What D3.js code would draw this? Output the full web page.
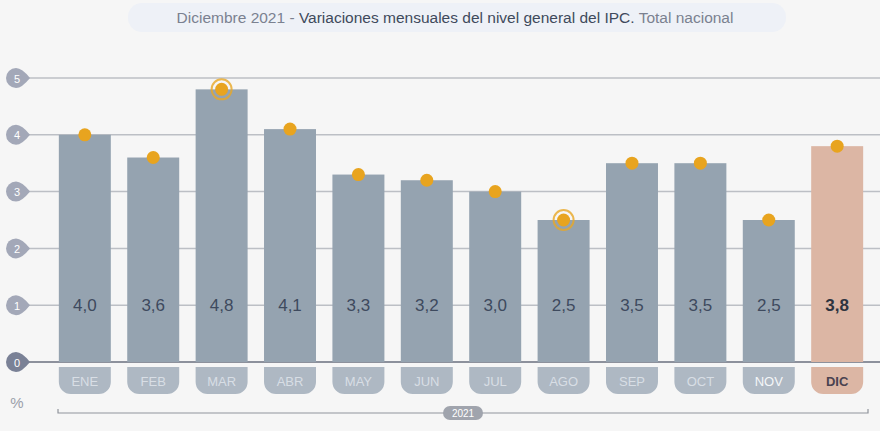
<!DOCTYPE html>
<html><head><meta charset="utf-8">
<script src="https://cdn.jsdelivr.net/npm/d3@7"></script>
<style>body{margin:0;background:#f6f6f6;font-family:"Liberation Sans",Arial,sans-serif}</style>
</head><body><svg id="c" width="880" height="431"></svg>
<script>
const months = ["ENE","FEB","MAR","ABR","MAY","JUN","JUL","AGO","SEP","OCT","NOV","DIC"];
const values = [4.0,3.6,4.8,4.1,3.3,3.2,3.0,2.5,3.5,3.5,2.5,3.8];
const ringed = ["MAR","AGO"];
const yTicks = [0,1,2,3,4,5];

const svg = d3.select("#c");
const x = d3.scaleBand().domain(months).range([52, 870]).paddingInner(0.24).paddingOuter(0.1);
const y = d3.scaleLinear().domain([0,5]).range([362,78]);
const fmt = v => v.toFixed(1).replace(".", ",");

// title
svg.append("rect").attr("x",128).attr("y",3).attr("width",658).attr("height",29).attr("rx",14).attr("fill","#eef1f7");
const t = svg.append("text").attr("x",455).attr("y",23).attr("text-anchor","middle").style("font-size","15.5px").attr("fill","#7b8190");
t.append("tspan").text("Diciembre 2021 - ");
t.append("tspan").attr("fill","#3f4a5c").text("Variaciones mensuales del nivel general del IPC.");
t.append("tspan").text(" Total nacional");

// grid + tick badges
yTicks.forEach(v => {
  svg.append("line").attr("x1",20).attr("x2",880).attr("y1",y(v)).attr("y2",y(v))
    .attr("stroke", v===0 ? "#8d919c" : "#bcbfc5").attr("stroke-width", v===0?2:1.5);
  const g = svg.append("g").attr("transform",`translate(16,${y(v)})`);
  g.append("path").attr("d","M0,-10 A10,10 0 1,0 0,10 Q6,10 14,0 Q6,-10 0,-10Z")
    .attr("fill", v===0 ? "#7a8196" : "#a3a8b8");
  g.append("text").attr("x",1).attr("y",4.5).attr("text-anchor","middle").attr("fill","#fff").style("font-size","11px").text(v);
});
svg.append("text").attr("x",17).attr("y",408).attr("text-anchor","middle").attr("fill","#9ba0aa").style("font-size","15px").text("%");

// bars
const bw = x.bandwidth();
months.forEach((m,i) => {
  const last = m === "DIC";
  svg.append("rect").attr("x",x(m)).attr("y",y(values[i])).attr("width",bw).attr("height",y(0)-y(values[i]))
    .attr("fill", last ? "#dcb6a4" : "#95a3b0");
  svg.append("text").attr("x",x(m)+bw/2).attr("y",y(1)+6).attr("text-anchor","middle")
    .attr("fill", last ? "#2e3440" : "#3e4a5e").style("font-size","17px").style("font-weight", last?"bold":"normal").text(fmt(values[i]));
  // month pill
  svg.append("path").attr("d",`M${x(m)},367 h${bw} v15 a12,12 0 0 1 -12,12 h${-(bw-24)} a12,12 0 0 1 -12,-12 Z`)
    .attr("fill", last ? "#dcb6a4" : "#aeb8c3");
  svg.append("text").attr("x",x(m)+bw/2).attr("y",386).attr("text-anchor","middle")
    .attr("fill", last ? "#4a4350" : (m==="NOV" ? "#f4f6f8" : "#d8dee5")).style("font-size","13px").style("font-weight", last?"bold":"normal").text(m);
  // dot
  const cx = x(m)+bw/2, cy = y(values[i]);
  if (ringed.includes(m)) svg.append("circle").attr("cx",cx).attr("cy",cy).attr("r",10).attr("fill","none").attr("stroke","#e9a825").attr("stroke-width",2).attr("opacity",0.8);
  svg.append("circle").attr("cx",cx).attr("cy",cy).attr("r",6.5).attr("fill","#e8a41f");
});

// year bracket
svg.append("path").attr("d","M58,409 v4 H868 v-4").attr("fill","none").attr("stroke","#8f939b").attr("stroke-width",1.2);
svg.append("rect").attr("x",443).attr("y",406).attr("width",40).attr("height",14).attr("rx",7).attr("fill","#a0a4ad");
svg.append("text").attr("x",463).attr("y",417).attr("text-anchor","middle").attr("fill","#fff").style("font-size","10px").text("2021");
</script></body></html>
